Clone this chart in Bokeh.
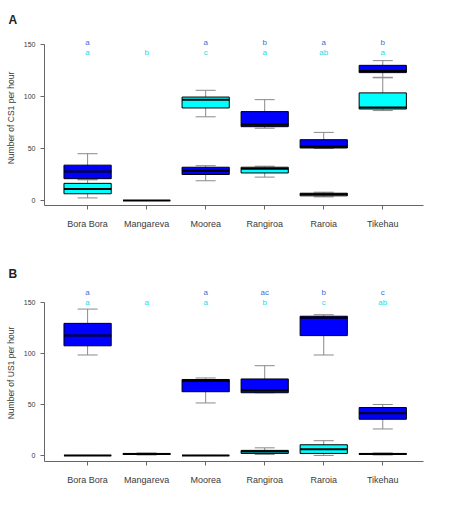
from bokeh.plotting import figure
from bokeh.layouts import column
from bokeh.models import ColumnDataSource, FixedTicker, Whisker, TeeHead, Range1d
from bokeh.core.properties import value
from bokeh.embed import file_html
from bokeh.resources import INLINE

sites = ["Bora Bora", "Mangareva", "Moorea", "Rangiroa", "Raroia", "Tikehau"]
y_ticks = [0, 50, 100, 150]

# Panel A - CS1 calls per hour: five-number summaries (low, q1, median, q3, high)
a_blue = [
    (20, 21, 28, 34, 45),
    None,
    (19, 25, 28.5, 32, 33.5),
    (69.5, 71, 73, 85.5, 97),
    (50, 50.5, 52, 58.5, 65.5),
    (118.5, 123, 124.5, 130, 134.5),
]
a_cyan = [
    (2.5, 6.5, 11, 16.5, 20),
    (0, 0, 0, 0, 0),
    (80.5, 89, 97, 99.5, 106),
    (22.5, 26.5, 30.5, 32, 33),
    (3.5, 4.5, 6, 7, 8),
    (86.5, 88, 89.5, 103.5, 118),
]
a_letters_blue = ["a", "", "a", "b", "a", "b"]
a_letters_cyan = ["a", "b", "c", "a", "ab", "a"]

# Panel B - US1 calls per hour
b_blue = [
    (98.5, 107.5, 117.5, 129.5, 143.5),
    None,
    (51.5, 62.5, 73, 74.5, 76),
    (61.5, 61.5, 64, 75, 88),
    (98.5, 117.5, 135, 136.5, 138),
    (26, 35.5, 41.5, 47, 50),
]
b_cyan = [
    (0, 0, 0, 0, 0),
    (0.5, 1, 1.5, 2, 2.5),
    (0, 0, 0, 0, 0),
    (1, 2, 4, 5, 7.5),
    (0, 2, 6, 10.5, 14.5),
    (0.5, 1, 1.5, 2, 2.5),
]
b_letters_blue = ["a", "", "a", "ac", "b", "c"]
b_letters_cyan = ["a", "a", "a", "b", "c", "ab"]

FONT = "Liberation Sans"
BLUE = "#0000ff"
CYAN = "#00ffff"
BOX_W = 0.8


def box_source(stats):
    xs, lo, q1, md, q3, hi = [], [], [], [], [], []
    for i, s in enumerate(stats):
        if s is None:
            continue
        xs.append(i + 1)
        lo.append(s[0]); q1.append(s[1]); md.append(s[2]); q3.append(s[3]); hi.append(s[4])
    return ColumnDataSource(dict(
        x=xs, lo=lo, q1=q1, md=md, q3=q3, hi=hi,
        x0=[x - BOX_W / 2 for x in xs], x1=[x + BOX_W / 2 for x in xs]))


def draw_boxes(p, stats, fill):
    src = box_source(stats)
    w = Whisker(source=src, base="x", lower="lo", upper="hi", level="underlay",
                line_color="#8a8a8a", line_width=1,
                upper_head=TeeHead(size=20, line_color="#8a8a8a", line_width=1),
                lower_head=TeeHead(size=20, line_color="#8a8a8a", line_width=1))
    p.add_layout(w)
    p.vbar(x="x", bottom="q1", top="q3", width=BOX_W, source=src,
           fill_color=fill, line_color="black", line_width=1)
    p.segment(x0="x0", x1="x1", y0="md", y1="md", source=src,
              line_color="black", line_width=2)


def panel(blue, cyan, let_blue, let_cyan, let_y, tag, ylabel,
          y_lo, y_hi, border_bottom):
    p = figure(width=450, height=254, x_range=Range1d(0.27, 6.69),
               y_range=Range1d(y_lo, y_hi), output_backend="svg",
               toolbar_location=None, min_border_left=44, min_border_right=27,
               min_border_top=30, min_border_bottom=border_bottom)
    p.outline_line_color = None
    p.xgrid.visible = False
    p.ygrid.visible = False
    p.background_fill_color = "white"
    p.border_fill_color = "white"

    # panel tag ("A" / "B") as a left-shifted title
    p.title.text = tag
    p.title.text_font = FONT
    p.title.text_font_size = "12px"
    p.title.text_font_style = "bold"
    p.title.text_color = "#222222"
    p.title.align = "left"
    p.title.offset = -36
    p.title.standoff = 8

    draw_boxes(p, cyan, CYAN)
    draw_boxes(p, blue, BLUE)

    xs = list(range(1, len(sites) + 1))
    p.text(x=xs, y=[let_y[0]] * len(xs), text=let_blue, text_color="#3f6fd6",
           text_font=value(FONT), text_font_size="8px", text_align="center",
           text_baseline="middle")
    p.text(x=xs, y=[let_y[1]] * len(xs), text=let_cyan, text_color="#14e0e6",
           text_font=value(FONT), text_font_size="8px", text_align="center",
           text_baseline="middle")

    xa = p.xaxis[0]
    xa.ticker = FixedTicker(ticks=xs)
    xa.major_label_overrides = {i + 1: s for i, s in enumerate(sites)}
    xa.major_label_text_font = FONT
    xa.major_label_text_font_size = "9px"
    xa.major_label_text_color = "#3a3a3a"
    xa.major_label_standoff = 9
    xa.axis_line_color = "#666666"
    xa.major_tick_line_color = "#666666"
    xa.major_tick_in = 0
    xa.major_tick_out = 4
    xa.minor_tick_line_color = None

    ya = p.yaxis[0]
    ya.ticker = FixedTicker(ticks=y_ticks)
    ya.bounds = (y_lo, 150)
    ya.major_label_text_font = FONT
    ya.major_label_text_font_size = "7px"
    ya.major_label_text_color = "#3a3a3a"
    ya.major_label_standoff = 5
    ya.axis_line_color = "#666666"
    ya.major_tick_line_color = "#666666"
    ya.major_tick_in = 0
    ya.major_tick_out = 4
    ya.minor_tick_line_color = None
    ya.axis_label = ylabel
    ya.axis_label_text_font = FONT
    ya.axis_label_text_font_size = "8.5px"
    ya.axis_label_text_font_style = "normal"
    ya.axis_label_text_color = "#3a3a3a"
    ya.axis_label_standoff = 5
    return p


pa = panel(a_blue, a_cyan, a_letters_blue, a_letters_cyan, (151.6, 142.6),
           "A", "Number of CS1 per hour", -4.8, 163.5, 49)
pb = panel(b_blue, b_cyan, b_letters_blue, b_letters_cyan, (160, 150.3),
           "B", "Number of US1 per hour", -5.9, 167.6, 47)

layout = column(pa, pb, spacing=0)
open("out.html", "w").write(file_html(layout, INLINE))
